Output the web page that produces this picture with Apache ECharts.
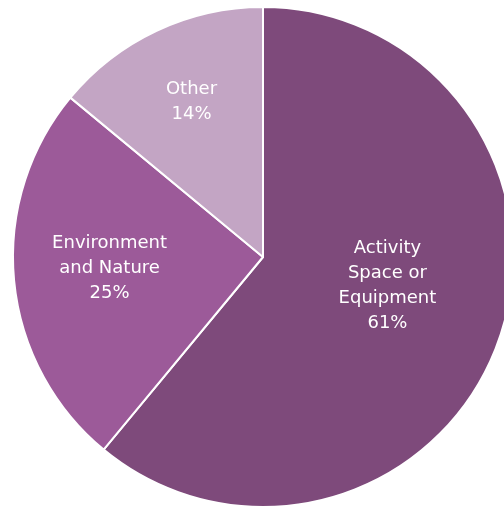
<!DOCTYPE html>
<html>
<head>
<meta charset="utf-8">
<script src="https://cdn.jsdelivr.net/npm/echarts@6/dist/echarts.min.js"></script>
<style>
  html, body { margin: 0; padding: 0; background: #fff; }
  #PieChart { width: 504px; height: 508px; }
</style>
</head>
<body>
<div id="PieChart"></div>
<script>
// 数据
const categories = ['Activity\nSpace or\nEquipment', 'Environment\nand Nature', 'Other'];
const shares = [61, 25, 14];

// 样式（与数据分开）
const sliceColors = ['#7e4a7b', '#9c5a99', '#c3a5c4'];
const labelOffsets = [[4, -15], [-26, -1], [-17, -39]];

const myChart = echarts.init(document.getElementById('PieChart'));
const option = {
  animation: false,
  series: [
    {
      type: 'pie',
      center: [263, 257],
      radius: [0, 250],
      startAngle: 90,
      clockwise: true,
      itemStyle: {
        borderColor: '#ffffff',
        borderWidth: 2,
      },
      label: {
        show: true,
        position: 'inside',
        color: '#ffffff',
        fontFamily: 'DejaVu Sans',
        fontSize: 18,
        lineHeight: 25,
        align: 'center',
        formatter: p => p.name + '\n' + p.value + '%',
      },
      labelLine: { show: false },
      emphasis: { disabled: true },
      data: categories.map((name, i) => ({
        name: name,
        value: shares[i],
        itemStyle: { color: sliceColors[i] },
        label: { offset: labelOffsets[i] },
      })),
    }
  ]
};
myChart.setOption(option);
</script>
</body>
</html>
